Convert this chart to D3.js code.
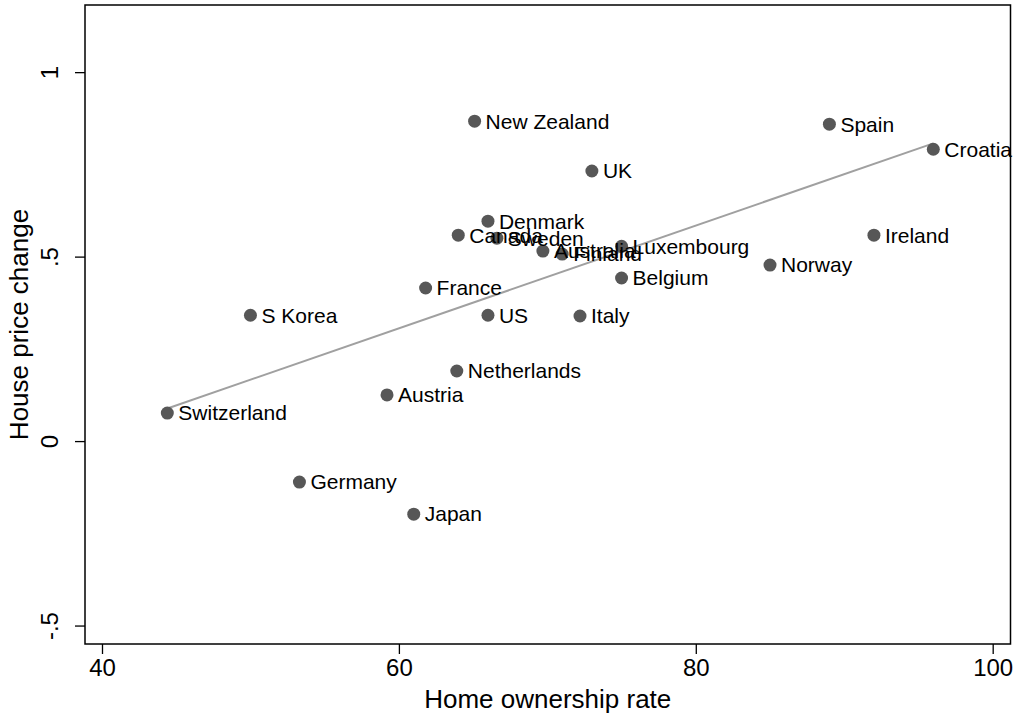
<!DOCTYPE html>
<html>
<head>
<meta charset="utf-8">
<script src="https://cdn.jsdelivr.net/npm/d3@7"></script>
<style>
  body { margin: 0; background: #fff; }
  text { font-family: "Liberation Sans", Arial, Helvetica, sans-serif; }
</style>
</head>
<body>
<svg width="1021" height="719"></svg>
<script>
// country data
var countries = ["Switzerland", "S Korea", "Germany", "Japan", "Austria", "France",
  "Netherlands", "Canada", "New Zealand", "Denmark", "US", "Sweden", "Australia",
  "Finland", "UK", "Italy", "Luxembourg", "Belgium", "Norway", "Spain", "Ireland", "Croatia"];
var ownership = [44.4, 50.0, 53.3, 61.0, 59.2, 61.8,
  63.9, 64.0, 65.1, 66.0, 66.0, 66.6, 69.7,
  71.0, 73.0, 72.2, 75.0, 75.0, 85.0, 89.0, 92.0, 96.0];
var priceChange = [0.076, 0.341, -0.111, -0.198, 0.125, 0.415,
  0.19, 0.558, 0.867, 0.596, 0.341, 0.55, 0.515,
  0.507, 0.732, 0.339, 0.528, 0.442, 0.477, 0.859, 0.558, 0.791];

var xTicks = [40, 60, 80, 100];
var yTicks = [-0.5, 0, 0.5, 1];
var yTickLabels = ["-.5", "0", ".5", "1"];

var data = countries.map(function(c, i) {
  return {name: c, x: ownership[i], y: priceChange[i]};
});

var svg = d3.select("svg"),
  margin = {left: 85, right: 10.5, top: 5, bottom: 75},
  width = +svg.attr("width"),
  height = +svg.attr("height");

var x = d3.scaleLinear().domain([38.855, 101.2]).range([margin.left, width - margin.right]);
var y = d3.scaleLinear().domain([-0.550, 1.182]).range([height - margin.bottom, margin.top]);

// plot box
svg.append("rect")
  .attr("x", margin.left)
  .attr("y", margin.top)
  .attr("width", width - margin.left - margin.right)
  .attr("height", height - margin.top - margin.bottom)
  .attr("fill", "none")
  .attr("stroke", "#000")
  .attr("stroke-width", 1.5);

// axes
var xAxis = svg.append("g")
  .attr("transform", "translate(0," + (height - margin.bottom) + ")")
  .call(d3.axisBottom(x).tickValues(xTicks).tickSize(10).tickPadding(5));
xAxis.select(".domain").remove();
xAxis.selectAll("text").attr("font-size", 24).attr("fill", "#000").attr("font-family", "Liberation Sans, Arial, sans-serif");
xAxis.selectAll("line").attr("stroke-width", 1.3);

var yAxis = svg.append("g")
  .attr("transform", "translate(" + margin.left + ",0)")
  .call(d3.axisLeft(y).tickValues(yTicks).tickSize(10).tickFormat(function(d, i) { return yTickLabels[i]; }));
yAxis.select(".domain").remove();
yAxis.selectAll("line").attr("stroke-width", 1.3);
yAxis.selectAll("text")
  .attr("font-size", 24)
  .attr("fill", "#000")
  .attr("font-family", "Liberation Sans, Arial, sans-serif")
  .attr("text-anchor", "middle")
  .attr("x", null)
  .attr("dy", 0)
  .attr("transform", "translate(-27,0) rotate(-90)");

// axis titles
svg.append("text")
  .attr("x", (margin.left + width - margin.right) / 2)
  .attr("y", 708)
  .attr("text-anchor", "middle")
  .attr("font-size", 26)
  .text("Home ownership rate");

svg.append("text")
  .attr("transform", "translate(28," + ((margin.top + height - margin.bottom) / 2) + ") rotate(-90)")
  .attr("text-anchor", "middle")
  .attr("font-size", 26)
  .text("House price change");

// linear fit
var mx = d3.mean(data, function(d) { return d.x; }),
  my = d3.mean(data, function(d) { return d.y; });
var slope = d3.sum(data, function(d) { return (d.x - mx) * (d.y - my); }) /
  d3.sum(data, function(d) { return (d.x - mx) * (d.x - mx); });
var icpt = my - slope * mx;
var xExt = d3.extent(data, function(d) { return d.x; });

svg.append("line")
  .attr("x1", x(xExt[0]))
  .attr("y1", y(icpt + slope * xExt[0]))
  .attr("x2", x(xExt[1]))
  .attr("y2", y(icpt + slope * xExt[1]))
  .attr("stroke", "#a0a0a0")
  .attr("stroke-width", 2);

// points
svg.append("g")
  .selectAll("circle")
  .data(data)
  .enter().append("circle")
  .attr("cx", function(d) { return x(d.x); })
  .attr("cy", function(d) { return y(d.y); })
  .attr("r", 6.5)
  .attr("fill", "#575757");

svg.append("g")
  .selectAll("text")
  .data(data)
  .enter().append("text")
  .attr("x", function(d) { return x(d.x) + 11; })
  .attr("y", function(d) { return y(d.y); })
  .attr("dy", "0.35em")
  .attr("font-size", 21)
  .attr("fill", "#000")
  .text(function(d) { return d.name; });
</script>
</body>
</html>
